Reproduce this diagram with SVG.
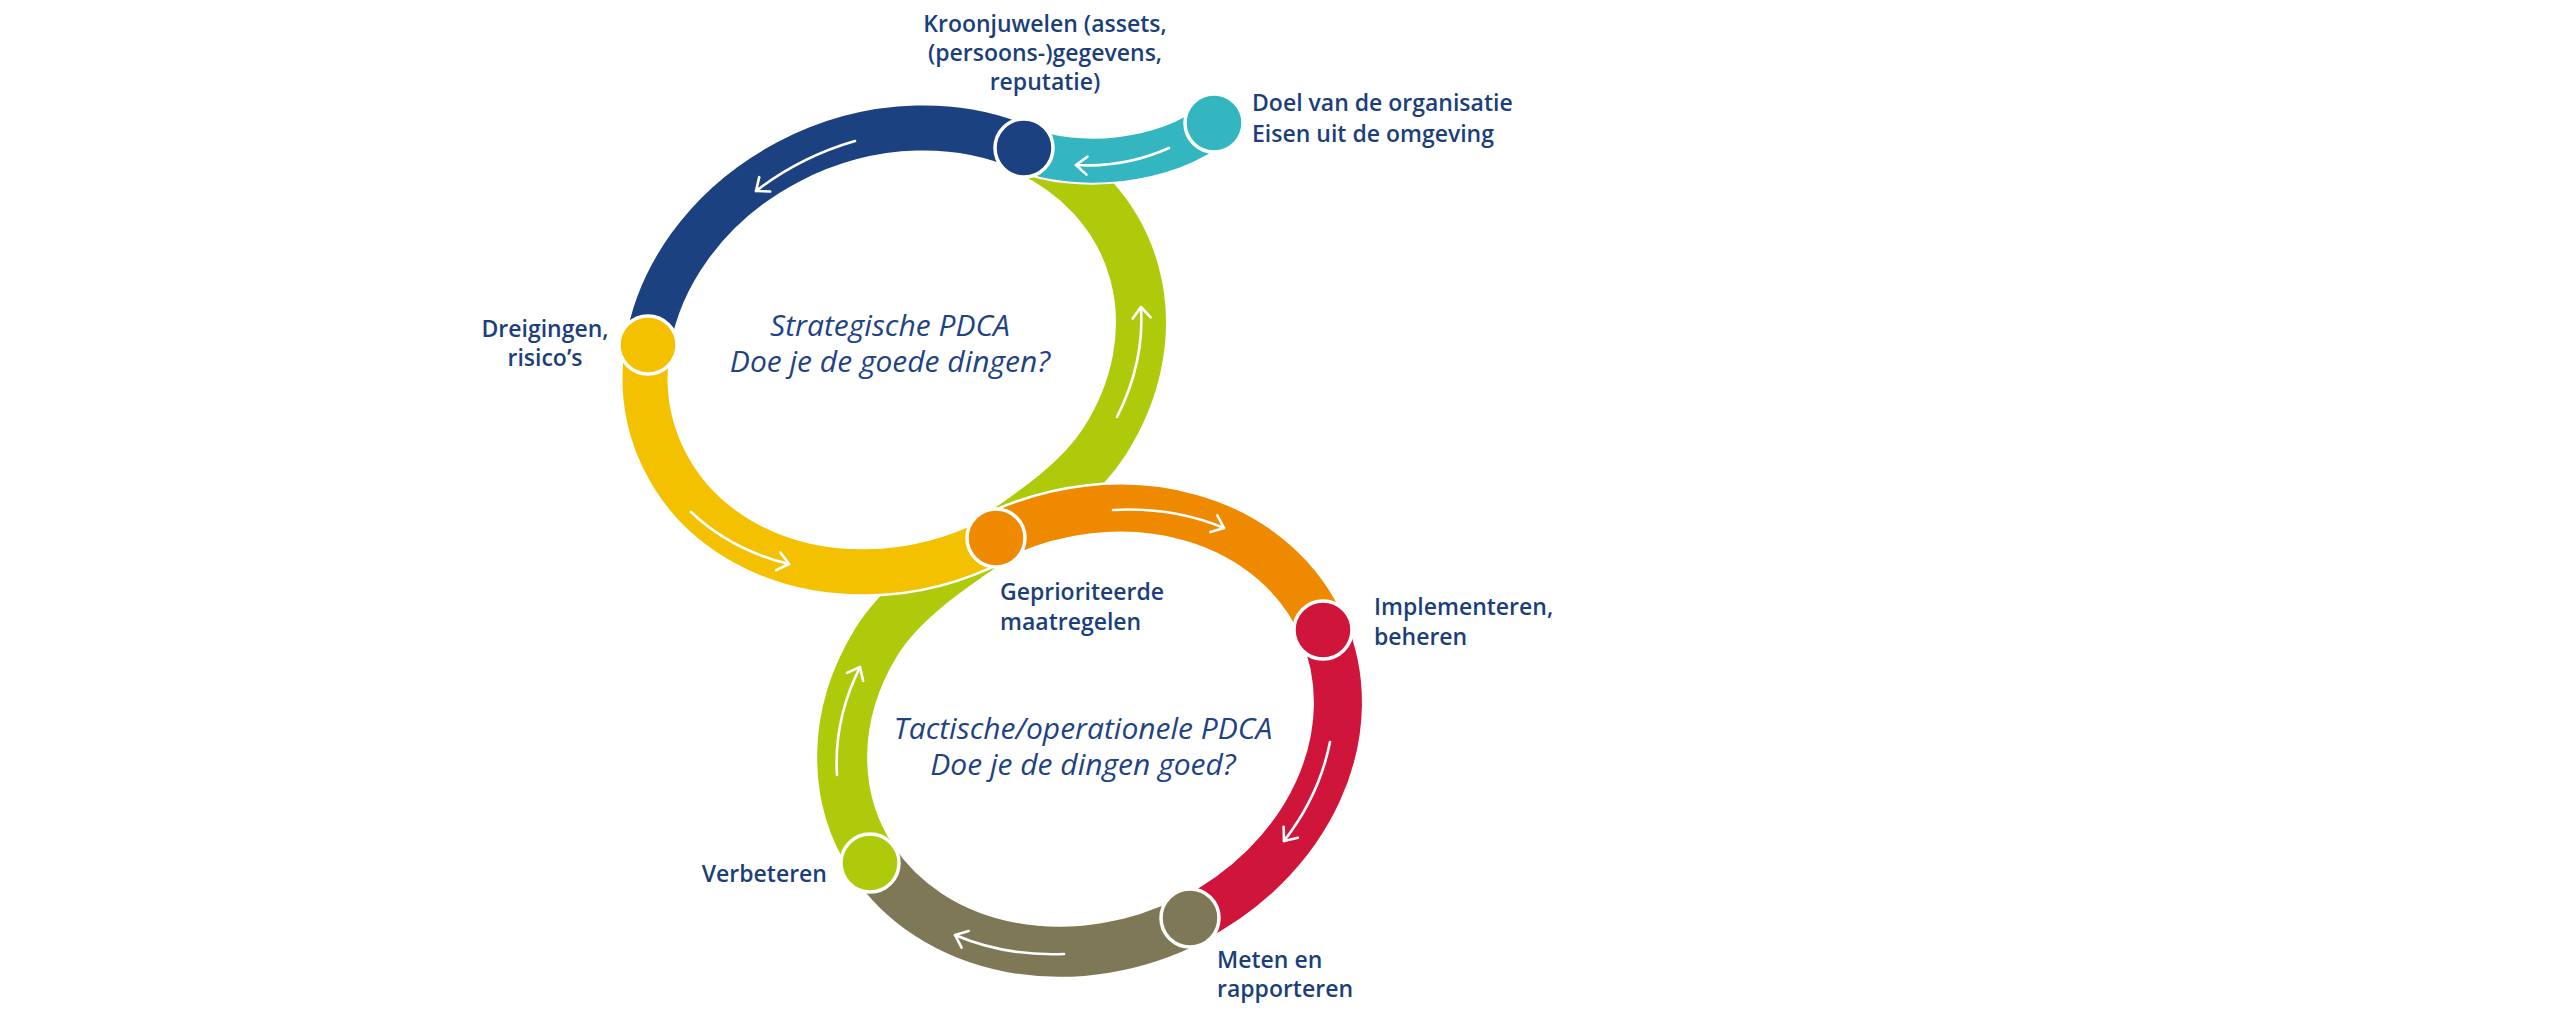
<svg xmlns="http://www.w3.org/2000/svg" width="2560" height="1024" viewBox="0 0 2560 1024">
<style>
.band{fill:none;stroke-linecap:butt}
.under{fill:none;stroke:#ffffff;stroke-linecap:butt}
.arr{fill:none;stroke:#ffffff;stroke-width:2.6;stroke-linecap:round;marker-end:url(#chev)}
.node{stroke:#ffffff;stroke-width:3.5}
.lbl{font-family:"Open Sans","Noto Sans","DejaVu Sans",sans-serif;font-weight:600;font-size:23px;fill:#1c3f7b}
.ctr{font-family:"Open Sans","Noto Sans","DejaVu Sans",sans-serif;font-style:italic;font-weight:400;font-size:30px;fill:#1f4383;text-anchor:middle}
</style>
<defs>
<marker id="chev" viewBox="-15 -15 30 30" markerWidth="30" markerHeight="30" refX="0" refY="0" orient="auto" markerUnits="userSpaceOnUse" overflow="visible">
<path d="M-11,-9 L0,0 L-11,9" fill="none" stroke="#ffffff" stroke-width="2.6" stroke-linecap="round" stroke-linejoin="round"/>
</marker>
</defs>
<rect width="2560" height="1024" fill="#ffffff"/>
<g id="connectors">
<path class="band" stroke="#afca0b" stroke-width="50" d="M 872.5 859.6 A 254 215 -24 0 1 876.1 642.4 C 925.8 561.5 1053.6 521.3 1104.7 441.2 A 254 215 -24 0 0 1023.9 148.4"/>
<path class="band" stroke="#1b4180" stroke-width="45" d="M 1023.9 148.4 A 254 215 -24 0 0 647.7 345.1"/>
<path class="under" stroke-width="48" d="M 1023.9 148.4 C 1074.2 170.6 1168 163 1214 123"/>
<path class="band" stroke="#33b6c0" stroke-width="44" d="M 1023.9 148.4 C 1074.2 170.6 1168 163 1214 123"/>
<path class="under" stroke-width="50" d="M 647.7 345.1 A 254 215 -24 0 0 996.4 538.7"/>
<path class="band" stroke="#f4c100" stroke-width="45" d="M 647.7 345.1 A 254 215 -24 0 0 996.4 538.7"/>
<path class="under" stroke-width="52" d="M 994.6 537.3 A 254 215 -24 0 1 1323.5 630.1"/>
<path class="band" stroke="#ef8a00" stroke-width="47" d="M 994.6 537.3 A 254 215 -24 0 1 1323.5 630.1"/>
<path class="band" stroke="#cf163a" stroke-width="48" d="M 1323.5 630.1 A 254 215 -24 0 1 1191.4 919.7"/>
<path class="band" stroke="#7f7856" stroke-width="50" d="M 1191.4 919.7 A 254 215 -24 0 1 872.5 859.6"/>
<path class="arr" d="M 855 141 A 254 215 -24 0 0 756 191"/>
<path class="arr" d="M 1169 148 A 200 200 0 0 1 1076 165"/>
<path class="arr" d="M 1117 417 A 254 215 -24 0 0 1141 307"/>
<path class="arr" d="M 691 512 A 254 215 -24 0 0 789 564"/>
<path class="arr" d="M 1113 510 A 254 215 -24 0 1 1224 528"/>
<path class="arr" d="M 1330 742 A 254 215 -24 0 1 1284 841"/>
<path class="arr" d="M 1064 954 A 254 215 -24 0 1 955 935"/>
<path class="arr" d="M 837 775 A 254 215 -24 0 1 860 667"/>
</g>
<g id="node-kroonjuwelen">
<circle class="node" cx="1024" cy="148" r="29" fill="#1b4180"/>
<text class="lbl" text-anchor="middle"><tspan x="1045" y="32">Kroonjuwelen (assets,</tspan><tspan x="1045" y="61">(persoons-)gegevens,</tspan><tspan x="1045" y="90">reputatie)</tspan></text>
</g>
<g id="node-doel">
<circle class="node" cx="1214" cy="123" r="29" fill="#33b6c0"/>
<text class="lbl"><tspan x="1252" y="111">Doel van de organisatie</tspan><tspan x="1252" y="142">Eisen uit de omgeving</tspan></text>
</g>
<g id="node-dreigingen">
<circle class="node" cx="648" cy="345" r="29" fill="#f4c100"/>
<text class="lbl" text-anchor="middle"><tspan x="545" y="337">Dreigingen,</tspan><tspan x="545" y="366">risico’s</tspan></text>
</g>
<g id="node-geprioriteerde">
<circle class="node" cx="996" cy="538" r="29" fill="#ef8a00"/>
<text class="lbl"><tspan x="1000" y="600">Geprioriteerde</tspan><tspan x="1000" y="630">maatregelen</tspan></text>
</g>
<g id="node-implementeren">
<circle class="node" cx="1323" cy="630" r="29" fill="#cf163a"/>
<text class="lbl"><tspan x="1374" y="615">Implementeren,</tspan><tspan x="1374" y="645">beheren</tspan></text>
</g>
<g id="node-meten">
<circle class="node" cx="1190" cy="918" r="29" fill="#7f7856"/>
<text class="lbl"><tspan x="1217" y="968">Meten en</tspan><tspan x="1217" y="997">rapporteren</tspan></text>
</g>
<g id="node-verbeteren">
<circle class="node" cx="870" cy="863" r="29" fill="#afca0b"/>
<text class="lbl" x="827" y="882" text-anchor="end">Verbeteren</text>
</g>
<g id="center-strategisch">
<text class="ctr"><tspan x="890" y="336">Strategische PDCA</tspan><tspan x="890" y="372">Doe je de goede dingen?</tspan></text>
</g>
<g id="center-tactisch">
<text class="ctr"><tspan x="1083" y="739">Tactische/operationele PDCA</tspan><tspan x="1083" y="775">Doe je de dingen goed?</tspan></text>
</g>
</svg>
